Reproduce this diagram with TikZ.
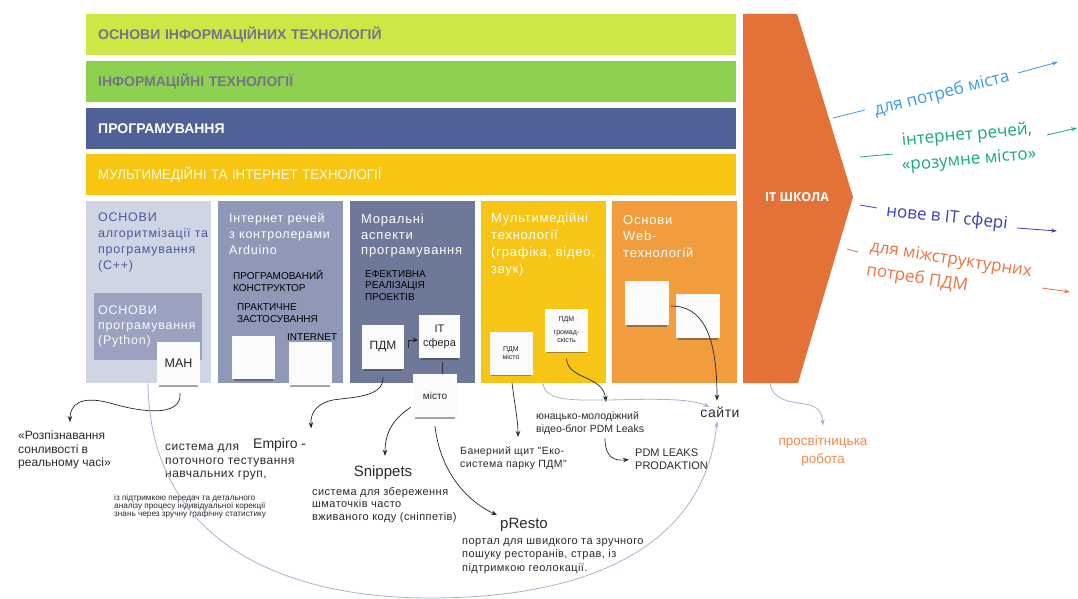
\documentclass[tikz,border=0pt]{standalone}
\usepackage{fontspec}
\setmainfont{Liberation Sans}
\newfontfamily\osans{Open Sans}
\newfontfamily\hsp[LetterSpace=6]{Liberation Sans}
\newfontfamily\dsp[LetterSpace=4]{Liberation Sans}
\usetikzlibrary{arrows.meta,shadows,calc}
\definecolor{barA}{HTML}{CFE744}
\definecolor{barB}{HTML}{8ED04F}
\definecolor{barC}{HTML}{4F6196}
\definecolor{barD}{HTML}{F8C512}
\definecolor{colA}{HTML}{D0D5E3}
\definecolor{colB}{HTML}{8F98B7}
\definecolor{colC}{HTML}{6E7899}
\definecolor{colD}{HTML}{F7C516}
\definecolor{colE}{HTML}{F19D3E}
\definecolor{itsch}{HTML}{E37138}
\definecolor{inbox}{HTML}{9AA2C0}
\definecolor{headblue}{HTML}{4859A0}
\definecolor{bargrey}{HTML}{74748A}
\definecolor{lightconn}{HTML}{A9B3D1}
\definecolor{rblue}{HTML}{3B9BE3}
\definecolor{rgreen}{HTML}{17A882}
\definecolor{rviolet}{HTML}{3C3FB5}
\definecolor{rorange}{HTML}{EC7442}
\definecolor{txt}{HTML}{2A2A2A}
\definecolor{prosvc}{HTML}{F08A4B}
\tikzset{
  bar/.style={anchor=north west, minimum width=650pt, minimum height=41pt, text width=626pt, inner xsep=12pt, inner ysep=0pt, align=left},
  colbox/.style={anchor=north west, minimum width=125pt, minimum height=182pt, inner sep=0pt},
  note/.style={fill=white!97!gray, minimum width=43pt, minimum height=43pt, inner sep=0pt, align=center, text=black!85,
     drop shadow={shadow xshift=0pt, shadow yshift=-4pt, shadow scale=0.92, opacity=0.45, fill=black!80}},
  head/.style={anchor=north west, inner sep=0pt, align=left, font=\hsp\fontsize{12.5}{16}\selectfont},
  caps/.style={anchor=north west, inner sep=0pt, align=left, text=black, font=\fontsize{10}{12}\selectfont},
  desc/.style={anchor=north west, inner sep=0pt, align=left, text=txt},
  arr/.style={-{Stealth[length=6pt,width=4.5pt]}, line width=0.7pt, black!85},
  larr/.style={-{Stealth[length=6pt,width=4.5pt]}, line width=0.8pt, lightconn},
  rtext/.style={inner sep=0pt, align=left},
  rline/.style={line width=0.8pt},
  rarr/.style={line width=0.8pt, -{Stealth[length=6pt,width=4pt]}},
}
\begin{document}
\begin{tikzpicture}[x=1pt,y=-1pt]
\useasboundingbox[fill=white] (0,0) rectangle (1078,599);

% horizontal bars
\node[bar, fill=barA, text=bargrey, font=\bfseries\fontsize{14}{16}\selectfont] (b1) at (86,14) {ОСНОВИ ІНФОРМАЦІЙНИХ ТЕХНОЛОГІЙ};
\node[bar, fill=barB, text=bargrey, font=\bfseries\fontsize{14}{16}\selectfont] (b2) at (86,61) {ІНФОРМАЦІЙНІ ТЕХНОЛОГІЇ};
\node[bar, fill=barC, text=white, font=\bfseries\fontsize{14}{16}\selectfont] (b3) at (86,108) {ПРОГРАМУВАННЯ};
\node[bar, fill=barD, text=white!90!yellow, font=\fontsize{14}{16}\selectfont] (b4) at (86,154) {\scalebox{0.95}[1]{МУЛЬТИМЕДІЙНІ ТА ІНТЕРНЕТ ТЕХНОЛОГІЇ}};

% columns
\node[colbox, fill=colA] (c1) at (86,201) {};
\node[colbox, fill=colB] (c2) at (218,201) {};
\node[colbox, fill=colC] (c3) at (350,201) {};
\node[colbox, fill=colD] (c4) at (481,201) {};
\node[colbox, fill=colE] (c5) at (612,201) {};

% IT school
\fill[itsch] (743,14) -- (797,14) -- (853,197) -- (798,383) -- (743,383) -- cycle;
\node[text=white, font=\osans\bfseries\fontsize{12.5}{14}\selectfont, inner sep=0pt] (itschool) at (797,197) {IT ШКОЛА};
\coordinate (itbot) at (770,383);

% column 1
\node[head, text=headblue] (h1) at (98,213) {ОСНОВИ\\алгоритмізації та\\програмування\\(C++)};
\node[anchor=north west, fill=inbox, minimum width=108pt, minimum height=67pt, inner sep=0pt] (py) at (94,293) {};
\node[head, text=white!92!colA, font=\hsp\fontsize{12.5}{15}\selectfont] (h1b) at (98,306) {ОСНОВИ\\програмування\\(Python)};
\node[note, font=\fontsize{12.5}{14}\selectfont] (nman) at (178.5,363.5) {МАН};

% column 2
\node[head, text=white] (h2) at (229,213) {Інтернет речей\\з контролерами\\Arduino};
\node[caps] (k2a) at (233,270) {ПРОГРАМОВАНИЙ\\КОНСТРУКТОР};
\node[caps] (k2b) at (237,303) {ПРАКТИЧНЕ\\ЗАСТОСУВАННЯ};
\node[note] (n2a) at (253.5,357.5) {};
\node[note] (n2b) at (310,363.5) {};
\node[caps] (k2c) at (287,333) {INTERNET};

% column 3
\node[head, text=white, font=\hsp\fontsize{13}{15.5}\selectfont] (h3) at (361,214) {Моральні\\аспекти\\програмування};
\node[caps, font=\fontsize{10}{11.5}\selectfont] (k3) at (365,270) {ЕФЕКТИВНА\\РЕАЛІЗАЦІЯ\\ПРОЕКТІВ};
\node[note, minimum width=42pt, minimum height=44pt, font=\fontsize{12}{14}\selectfont] (npdm) at (383,347) {ПДМ};
\node[note, minimum width=41pt, font=\fontsize{11}{14}\selectfont] (nits) at (439.5,336.5) {IT\\сфера};
\node[note, minimum width=44pt, font=\fontsize{10}{12}\selectfont] (nmisto) at (435,395.5) {місто};

% column 4
\node[head, text=white, font=\hsp\fontsize{13}{17}\selectfont] (h4) at (491,213) {Мультимедійні\\технології\\(графіка, відео,\\звук)};
\node[note, font=\fontsize{7}{8}\selectfont] (npdmm) at (511,353) {ПДМ\\місто};
\node[note, font=\fontsize{7}{8}\selectfont] (npdmg) at (566.5,330) {ПДМ\\[5pt]громад-\\скість};

% column 5
\node[head, text=white, font=\hsp\fontsize{13}{16.5}\selectfont] (h5) at (623,215) {Основи\\Web-\\технологій};
\node[note, minimum width=44pt, minimum height=44pt] (nw1) at (647,303) {};
\node[note, minimum width=44pt, minimum height=44pt] (nw2) at (698,316) {};

% right side texts
\node[rtext, text=rblue, rotate=14, font=\osans\fontsize{17}{22}\selectfont] (r1) at (942,94) {для потреб міста};
\node[rtext, text=rgreen, rotate=5, align=center, font=\osans\fontsize{17}{25}\selectfont] (r2) at (968,148) {інтернет речей,\\«розумне місто»};
\node[rtext, text=rviolet, rotate=-6, font=\osans\fontsize{17}{22}\selectfont] (r3) at (947,218) {нове в IT сфері};
\node[rtext, text=rorange, rotate=-9, font=\osans\fontsize{17}{24}\selectfont] (r4) at (949,272) {для міжструктурних\\потреб ПДМ};
\draw[rline, rblue] (833,118) -- (865,110);
\draw[rarr, rblue] (1018,73) -- (1058,62);
\draw[rline, rgreen] (860,157) -- (893,154);
\draw[rarr, rgreen] (1047,135) -- (1077,128);
\draw[rline, rviolet] (860,205) -- (877,208);
\draw[rarr, rviolet] (1017,228) -- (1057,231);
\draw[rline, rorange] (847,249) -- (858,252);
\draw[rarr, rorange] (1042,288) -- (1070,292);

% bottom texts
\node[desc, font=\fontsize{12}{13.5}\selectfont] (rozp) at (18,431) {«Розпізнавання\\сонливості в\\реальному часі»};
\node[desc, font=\dsp\fontsize{12}{13.5}\selectfont] (sysd) at (165,444) {система для\\поточного тестування\\навчальних груп,};
\node[desc, anchor=west, font=\fontsize{14}{16}\selectfont] (empiro) at (253,445) {Empiro -};
\node[desc, font=\fontsize{8.2}{8.4}\selectfont] (supp) at (114,494) {із підтримкою передач та детального\\аналізу процесу індивідуальної корекції\\знань через зручну графічну статистику};
\node[desc, anchor=center, font=\fontsize{15}{17}\selectfont] (snip) at (383,473) {Snippets};
\node[desc, font=\dsp\fontsize{11}{12.5}\selectfont] (snipd) at (312,487) {система для збереження\\шматочків часто\\вживаного коду (сніппетів)};
\node[desc, anchor=center, font=\fontsize{15}{17}\selectfont] (presto) at (524,525) {pResto};
\node[desc, font=\dsp\fontsize{11}{13.5}\selectfont] (prestod) at (462,538) {портал для швидкого та зручного\\пошуку ресторанів, страв, із\\підтримкою геолокації.};
\node[desc, font=\dsp\fontsize{10.5}{13}\selectfont] (baner) at (460,447) {Банерний щит "Еко-\\система парку ПДМ"};
\node[desc, font=\fontsize{10.5}{13}\selectfont] (blog) at (536,412) {юнацько-молодіжний\\відео-блог PDM Leaks};
\node[desc, font=\fontsize{11}{13}\selectfont] (leaks) at (635,449) {PDM LEAKS\\PRODAKTION};
\node[desc, anchor=center, font=\dsp\fontsize{14}{16}\selectfont] (sayty) at (720,412) {сайти};
\node[desc, anchor=center, align=center, text=prosvc, font=\fontsize{13.5}{18}\selectfont] (prosv) at (823,451) {просвітницька\\робота};

% black connectors
\draw[arr] ($(nman.south)+(1.5,8)$) .. controls (182,418) and (140,412) .. (110,403) .. controls (80,395) and (70,405) .. ($(rozp.north west)+(52,-9)$);
\draw[arr] ($(npdm.south)+(0,8)$) .. controls (384,398) and (350,397) .. (333,400) .. controls (318,403) and (310,412) .. ($(empiro.north east)+(5,-10)$);
\draw[-{Stealth[length=5pt,width=5pt]}, line width=0.7pt, black!85] ($(npdm.east)+(4,1)$) |- ($(nits.west)+(-1,3.5)$);
\draw[line width=0.7pt, black!80] ($(nits.south)+(2.5,4)$) -- ($(nmisto.north)+(7,0)$);
\draw[arr] ($(nmisto.south west)+(-2,-10)$) .. controls (395,418) and (385,430) .. ($(snip.north)+(2,-10)$);
\draw[arr] ($(nmisto.south)+(0,9)$) .. controls (440,470) and (465,500) .. ($(presto.north west)+(-3,-3)$);
\draw[arr] ($(npdmm.south)+(1,8)$) .. controls (514,400) and (518,420) .. ($(baner.north west)+(58,-10)$);
\draw[arr] ($(npdmg.south)+(0,7)$) .. controls (568,380) and (603,375) .. ($(blog.north west)+(70,-10)$);
\draw[arr] ($(blog.south west)+(69,3)$) .. controls (605,458) and (615,461) .. ($(leaks.west)+(-6,0)$);
\draw[arr] ($(nw1.east)+(2,3)$) .. controls (700,306) and (717,330) .. ($(sayty.north)+(-3,-6)$);

% light connectors
\draw[larr] (itbot) .. controls (772,400) and (790,402) .. (805,404) .. controls (818,406) and (822,412) .. ($(prosv.north)+(0,-10)$);
\draw[larr] ($(c1.south west)+(62,0)$) .. controls (150,540) and (280,598) .. (430,598) .. controls (600,598) and (705,540) .. ($(sayty.south)+(-3,4)$);
\draw[larr] ($(c4.south west)+(62,0)$) .. controls (545,402) and (575,400) .. (610,400) .. controls (650,399) and (690,398) .. ($(sayty.west)+(9,-5)$);
\end{tikzpicture}
\end{document}
